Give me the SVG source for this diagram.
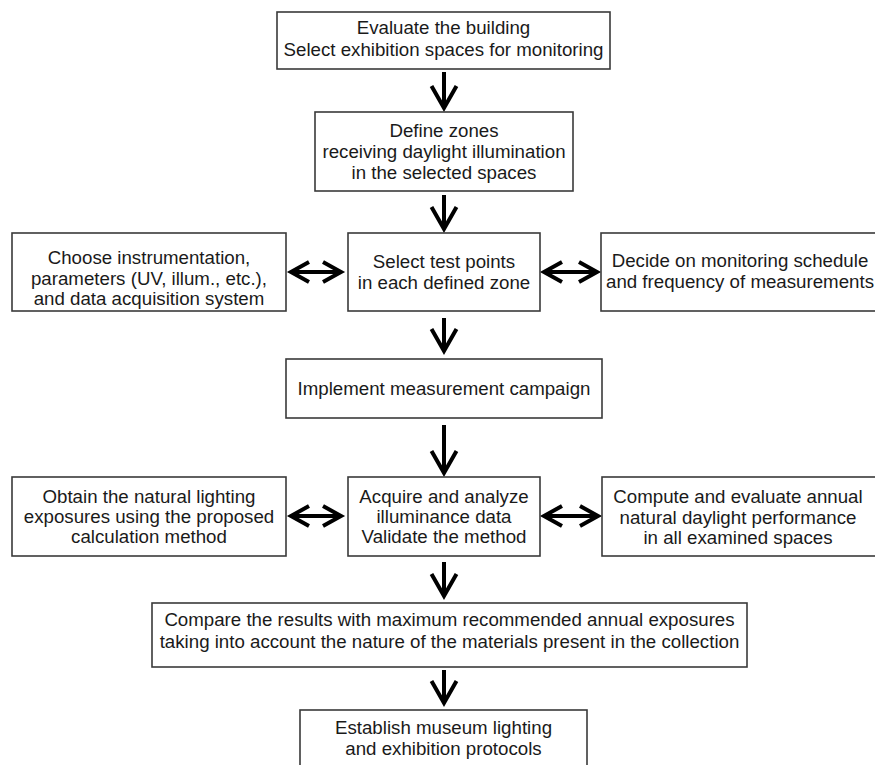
<svg xmlns="http://www.w3.org/2000/svg" width="875" height="765" viewBox="0 0 875 765">
<style>
.box{fill:#fff;stroke:#3a3a3a;stroke-width:1.6}
.t{font-family:"Liberation Sans",Arial,sans-serif;font-size:18.7px;fill:#1a1a1a;text-anchor:middle}
.c{fill:none;stroke:#000;stroke-width:4}
.v{marker-end:url(#ah)}
.h{marker-start:url(#ah2);marker-end:url(#ah2)}
</style>
<defs>
<marker id="ah" markerUnits="userSpaceOnUse" markerWidth="40" markerHeight="40" refX="-4" refY="0" orient="auto" overflow="visible" viewBox="-30 -20 40 40">
<path d="M-26,-12.5 L-4,0 L-26,12.5" fill="none" stroke="#000" stroke-width="4"/>
</marker>
<marker id="ah2" markerUnits="userSpaceOnUse" markerWidth="40" markerHeight="40" refX="-4" refY="0" orient="auto-start-reverse" overflow="visible" viewBox="-30 -20 40 40">
<path d="M-22,-10 L-4,0 L-22,10" fill="none" stroke="#000" stroke-width="4"/>
</marker>
</defs>
<rect width="875" height="765" fill="#fff"/>
<g id="connectors">
<line class="c v" x1="444" y1="72" x2="444" y2="108"/>
<line class="c v" x1="444" y1="195" x2="444" y2="229"/>
<line class="c v" x1="444" y1="318" x2="444" y2="351"/>
<line class="c v" x1="444" y1="425" x2="444" y2="473"/>
<line class="c v" x1="444" y1="562" x2="444" y2="596"/>
<line class="c v" x1="444" y1="670" x2="444" y2="703"/>
<line class="c h" x1="291" y1="272" x2="341" y2="272"/>
<line class="c h" x1="544" y1="272" x2="597" y2="272"/>
<line class="c h" x1="291" y1="516" x2="341" y2="516"/>
<line class="c h" x1="544" y1="516" x2="598" y2="516"/>
</g>
<g id="n1">
<rect class="box" x="277" y="12" width="333" height="57"/>
<text class="t" x="443.5" y="34">Evaluate the building</text>
<text class="t" x="443.5" y="56">Select exhibition spaces for monitoring</text>
</g>
<g id="n2">
<rect class="box" x="315" y="112" width="258" height="79"/>
<text class="t" x="444" y="137">Define zones</text>
<text class="t" x="444" y="158">receiving daylight illumination</text>
<text class="t" x="444" y="179">in the selected spaces</text>
</g>
<g id="n3">
<rect class="box" x="12" y="233" width="274" height="78"/>
<text class="t" x="149" y="264">Choose instrumentation,</text>
<text class="t" x="149" y="285">parameters (UV, illum., etc.),</text>
<text class="t" x="149" y="305">and data acquisition system</text>
</g>
<g id="n4">
<rect class="box" x="348" y="233" width="192" height="78"/>
<text class="t" x="444" y="268">Select test points</text>
<text class="t" x="444" y="289">in each defined zone</text>
</g>
<g id="n5">
<rect class="box" x="601" y="233" width="278" height="78"/>
<text class="t" x="740" y="267">Decide on monitoring schedule</text>
<text class="t" x="740" y="288">and frequency of measurements</text>
</g>
<g id="n6">
<rect class="box" x="286" y="359" width="316" height="59"/>
<text class="t" x="444" y="395">Implement measurement campaign</text>
</g>
<g id="n7">
<rect class="box" x="12" y="477" width="274" height="79"/>
<text class="t" x="149" y="503">Obtain the natural lighting</text>
<text class="t" x="149" y="523">exposures using the proposed</text>
<text class="t" x="149" y="543">calculation method</text>
</g>
<g id="n8">
<rect class="box" x="348" y="477" width="192" height="79"/>
<text class="t" x="444" y="503">Acquire and analyze</text>
<text class="t" x="444" y="523">illuminance data</text>
<text class="t" x="444" y="543">Validate the method</text>
</g>
<g id="n9">
<rect class="box" x="602" y="477" width="276" height="79"/>
<text class="t" x="738" y="503">Compute and evaluate annual</text>
<text class="t" x="738" y="524">natural daylight performance</text>
<text class="t" x="738" y="544">in all examined spaces</text>
</g>
<g id="n10">
<rect class="box" x="152" y="603" width="595" height="64"/>
<text class="t" x="449.5" y="626">Compare the results with maximum recommended annual exposures</text>
<text class="t" x="449.5" y="648">taking into account the nature of the materials present in the collection</text>
</g>
<g id="n11">
<rect class="box" x="300" y="710" width="287" height="60"/>
<text class="t" x="443.5" y="734">Establish museum lighting</text>
<text class="t" x="443.5" y="755">and exhibition protocols</text>
</g>
</svg>
